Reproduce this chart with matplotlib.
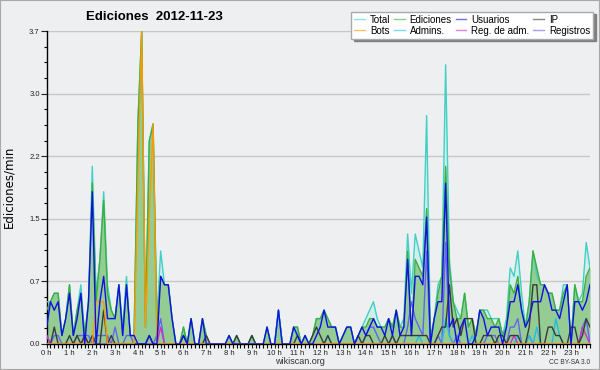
import numpy as np
import matplotlib.pyplot as plt
from matplotlib.patches import Rectangle

# edits per minute in 10-minute bins (in tenths)
total = [5, 5, 6, 6, 1, 3,   7, 1, 4, 7, 1, 5,   21, 6, 10, 18, 7, 4,   3, 7, 2, 8, 1, 1,
         26, 37, 2, 24, 26, 3,   11, 7, 7, 3, 0, 0,   2, 0, 3, 0, 0, 3,   1, 0, 0, 0, 0, 0,
         1, 0, 1, 0, 0, 0,   1, 0, 0, 0, 2, 0,   0, 4, 0, 0, 0, 2,   2, 0, 1, 0, 1, 3,
         3, 4, 3, 2, 2, 0,   1, 2, 2, 0, 1, 2,   3, 4, 5, 3, 2, 2,   3, 2, 4, 2, 3, 13,
         6, 13, 11, 9, 27, 1,   3, 7, 8, 33, 10, 5,   4, 3, 6, 2, 3, 1,   4, 4, 4, 3, 3, 3,
         1, 3, 9, 8, 11, 6,   2, 5, 11, 8, 7, 7,   6, 6, 4, 4, 7, 7,   0, 7, 5, 6, 12, 9]
edits = [4, 5, 6, 6, 1, 3,   7, 1, 4, 6, 1, 5,   19, 5, 10, 17, 6, 4,   3, 7, 1, 7, 1, 1,
         26, 37, 2, 24, 26, 2,   8, 7, 7, 3, 0, 0,   2, 0, 3, 0, 0, 3,   1, 0, 0, 0, 0, 0,
         1, 0, 1, 0, 0, 0,   1, 0, 0, 0, 2, 0,   0, 4, 0, 0, 0, 2,   2, 0, 1, 0, 1, 3,
         3, 4, 3, 2, 2, 0,   1, 2, 2, 0, 1, 2,   2, 3, 3, 2, 2, 2,   3, 2, 4, 2, 2, 11,
         1, 10, 9, 8, 16, 0,   3, 6, 8, 21, 9, 5,   3, 3, 6, 2, 3, 1,   4, 4, 3, 3, 2, 3,
         1, 2, 7, 6, 8, 4,   2, 5, 11, 9, 7, 7,   6, 6, 4, 4, 6, 7,   0, 7, 5, 5, 8, 9]
users = [2, 5, 4, 5, 1, 3,   6, 1, 3, 6, 0, 5,   18, 0, 5, 8, 3, 3,   3, 7, 1, 7, 1, 1,
         0, 0, 0, 1, 0, 0,   8, 7, 7, 3, 0, 0,   1, 0, 3, 0, 0, 3,   0, 0, 0, 0, 0, 0,
         1, 0, 0, 0, 0, 0,   0, 0, 0, 0, 2, 0,   0, 4, 0, 0, 0, 2,   1, 0, 1, 0, 0, 1,
         2, 4, 2, 2, 2, 0,   1, 2, 2, 0, 1, 2,   1, 2, 3, 2, 2, 1,   3, 1, 4, 1, 2, 10,
         1, 8, 8, 7, 15, 0,   3, 5, 5, 19, 2, 3,   0, 2, 3, 0, 0, 1,   4, 3, 1, 2, 2, 2,
         0, 2, 5, 5, 7, 4,   2, 3, 5, 5, 5, 7,   6, 4, 4, 3, 5, 7,   0, 5, 5, 4, 5, 7]
ip = [0, 0, 2, 0, 0, 0,   1, 0, 1, 0, 1, 0,   1, 0, 0, 4, 0, 1,   0, 0, 0, 0, 0, 0,
      0, 0, 0, 1, 0, 0,   0, 0, 0, 0, 0, 0,   1, 0, 0, 0, 0, 0,   1, 0, 0, 0, 0, 0,
      0, 0, 1, 0, 0, 0,   1, 0, 0, 0, 0, 0,   0, 0, 0, 0, 0, 0,   1, 0, 0, 0, 1, 2,
      1, 0, 1, 0, 0, 0,   0, 0, 0, 0, 1, 0,   1, 1, 0, 0, 0, 1,   0, 1, 0, 1, 1, 1,
      1, 1, 1, 1, 1, 0,   0, 1, 2, 2, 7, 2,   3, 1, 3, 3, 3, 0,   0, 1, 1, 1, 0, 1,
      1, 0, 1, 1, 1, 0,   0, 2, 7, 7, 0, 0,   2, 2, 1, 1, 0, 0,   2, 2, 0, 1, 3, 2]
bots = [0] * 144
admins = [0] * 144
regadm = [0] * 144
logs = [0] * 144
for i, v in {13: 5, 14: 5, 15: 5, 24: 19, 25: 37, 26: 2, 27: 15, 28: 26}.items():
    bots[i] = v
for i, v in {61: 4, 74: 1, 98: 1, 105: 3, 106: 1, 112: 1, 124: 1, 127: 1,
             129: 2, 134: 3, 135: 1}.items():
    admins[i] = v
for i, v in {0: 1, 10: 1, 30: 2, 123: 1, 141: 2, 142: 1}.items():
    regadm[i] = v
for i, v in {0: 1, 2: 1, 3: 1, 8: 1, 9: 1, 10: 1, 11: 1, 13: 1, 14: 1, 15: 1, 16: 1,
             18: 2, 21: 1, 22: 1, 29: 1, 30: 3, 84: 1, 85: 2, 86: 2, 87: 1, 91: 1,
             95: 2, 96: 5, 97: 3, 98: 2, 99: 1, 100: 11, 103: 1, 105: 12, 106: 1,
             108: 1, 116: 1, 117: 1, 118: 1, 122: 2, 123: 2, 124: 3, 127: 1,
             141: 2, 142: 3}.items():
    logs[i] = v

hour_labels = ["%d h" % h for h in range(24)]
y_ticks = [0, 0.74, 1.48, 2.22, 2.96, 3.7]
y_labels = ["0.0", "0.7", "1.5", "2.2", "3.0", "3.7"]
names = ["Total", "Ediciones", "Usuarios", "IP", "Bots", "Admins.", "Reg. de adm.", "Registros"]

def per_min(v):
    return np.array(v) / 10.0

bg = "#eeeff1"
fig = plt.figure(figsize=(6, 3.7), dpi=100, facecolor=bg)
ax = fig.add_axes([46.7 / 600, 26 / 370, 543.3 / 600, 313 / 370])
ax.set_facecolor(bg)

x = np.arange(len(total))
ax.fill_between(x, per_min(total), color="#d2eeeb", lw=0, zorder=1)
ax.fill_between(x, per_min(edits), color="#94cc94", lw=0, zorder=2)

lw = 1.0
l_total, = ax.plot(x, per_min(total), color="#3fd0c6", lw=lw, zorder=3)
l_edit, = ax.plot(x, per_min(edits), color="#3daf3d", lw=lw, zorder=3)
l_logs, = ax.plot(x, per_min(logs), color="#6464f0", lw=lw, zorder=4)
l_adm, = ax.plot(x, per_min(admins), color="#24bde0", lw=lw, zorder=4)
l_regadm, = ax.plot(x, per_min(regadm), color="#cc33cc", lw=lw, zorder=4)
l_ip, = ax.plot(x, per_min(ip), color="#3a3a3a", lw=lw, zorder=5)
l_bots, = ax.plot(x, per_min(bots), color="#ff9900", lw=lw, zorder=5)
l_users, = ax.plot(x, per_min(users), color="#1010e6", lw=lw, zorder=6)

ax.set_xlim(0, 143)
ax.set_ylim(0, 3.7)
ax.set_xticks(range(0, 144, 6))
ax.set_xticklabels(hour_labels)
ax.set_xticks(range(144), minor=True)
ax.set_yticks(y_ticks)
ax.set_yticklabels(y_labels)
ax.set_yticks(np.arange(0, 3.71, 0.185), minor=True)
ax.yaxis.grid(True, color="#c8c8c8", lw=1)
ax.set_axisbelow(True)
for s in ["top", "right"]:
    ax.spines[s].set_visible(False)
for s in ["left", "bottom"]:
    ax.spines[s].set_color("black")
    ax.spines[s].set_linewidth(1)
ax.tick_params(axis="x", which="major", length=3, width=0.8, labelsize=5.5, pad=1, colors="#222")
ax.tick_params(axis="x", which="minor", length=3, width=0.8)
ax.tick_params(axis="y", which="major", length=4, width=0.8, labelsize=5.5, pad=1, colors="#222")
ax.tick_params(axis="y", which="minor", length=2.5, width=0.8)
for t in ax.get_xticklabels() + ax.get_yticklabels():
    t.set_family("Liberation Sans")

order = [l_total, l_bots, l_edit, l_adm, l_users, l_regadm, l_ip, l_logs]
labels = [names[0], names[4], names[1], names[5], names[2], names[6], names[3], names[7]]
leg = fig.legend(order, labels, ncol=4, loc="upper right",
                 bbox_to_anchor=(593 / 600, 1 - 11.7 / 370),
                 prop=dict(family="Liberation Sans", size=7),
                 fancybox=False, shadow={"color": "#808080", "alpha": 1},
                 edgecolor="#aaaaaa", facecolor="white", framealpha=1,
                 handlelength=1.1, handletextpad=0.5, columnspacing=0.4,
                 labelspacing=0.1, borderpad=0.3, borderaxespad=0)
leg.get_frame().set_linewidth(1)
for h in leg.legend_handles:
    h.set_alpha(0.6)

fig.text(154 / 600, 1 - 17 / 370, "Ediciones  2012-11-23", ha="center", va="center",
         family="Liberation Sans", weight="bold", size=9.5)
fig.text(9 / 600, 1 - 187 / 370, "Ediciones/min", rotation=90, ha="center", va="center",
         family="DejaVu Sans", size=8.5)
fig.text(300 / 600, 1 - 362 / 370, "wikiscan.org", ha="center", va="center",
         family="Liberation Sans", size=6.5, color="#333")
fig.text(590 / 600, 1 - 362 / 370, "CC BY-SA 3.0", ha="right", va="center",
         family="Liberation Sans", size=4.8, color="#333")
fig.add_artist(Rectangle((0, 0), 1, 1, transform=fig.transFigure, fill=False,
                         ec="#a8a8a8", lw=1.5))

fig.savefig("out.png", dpi=100, facecolor=bg)
